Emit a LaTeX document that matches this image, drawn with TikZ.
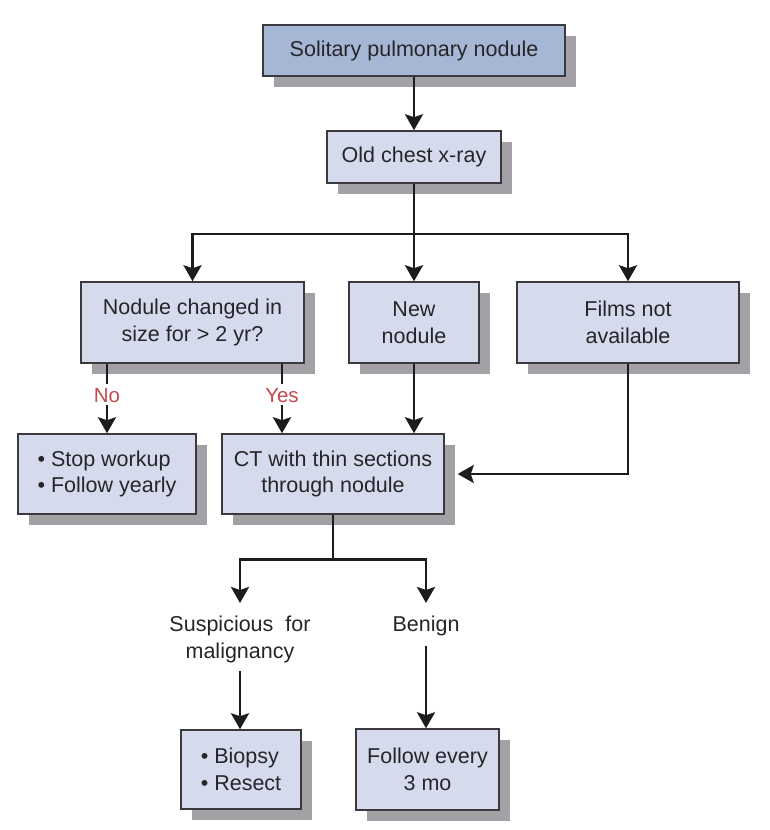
\documentclass[tikz,border=0pt]{standalone}
\usepackage{fontspec}
\setmainfont{Liberation Sans}
\usetikzlibrary{arrows.meta,shadows,calc}
\definecolor{topfill}{HTML}{A6B6D5}
\definecolor{boxfill}{HTML}{D5DAEC}
\definecolor{boxline}{HTML}{3A3A3E}
\definecolor{shadowgray}{HTML}{A2A2A6}
\definecolor{txt}{HTML}{26262A}
\definecolor{arrowc}{HTML}{1C1C1C}
\definecolor{redc}{HTML}{C8474F}
\begin{document}
\begin{tikzpicture}[x=1pt,y=-1pt,
  box/.style={draw=boxline, line width=1.5pt, fill=boxfill, text=txt,
    font=\fontsize{21.5}{26.5}\selectfont, align=center, inner sep=0pt,
    general shadow={fill=shadowgray, draw=none, shadow xshift=11pt, shadow yshift=-11pt}},
  lbox/.style={box, align=left},
  arr/.style={draw=arrowc, line width=2.9pt, -{Stealth[length=16pt,width=18pt,inset=3pt]}},
  lnk/.style={draw=arrowc, line width=2.9pt},
  lbl/.style={text=txt, font=\fontsize{21.5}{27}\selectfont, align=center, inner sep=0pt},
  yn/.style={text=redc, font=\fontsize{20.5}{24}\selectfont, inner sep=3pt, text height=15pt, text depth=0pt}]
\useasboundingbox (0,0) rectangle (770,830);

\node[box, fill=topfill, minimum width=302pt, minimum height=51pt] (A) at (414,50.5) {Solitary pulmonary nodule};
\node[box, minimum width=174pt, minimum height=52pt] (B) at (414,157) {Old chest x-ray};
\node[box, minimum width=223pt, minimum height=81pt] (C) at (192.5,322.5) {Nodule changed in\\size for > 2 yr?};
\node[box, minimum width=130pt, minimum height=81pt] (D) at (414,322.5) {New\\nodule};
\node[box, minimum width=222pt, minimum height=81pt] (E) at (628,322.5) {Films not\\available};
\node[lbox, minimum width=178pt, minimum height=80pt] (F) at (107,474) {• Stop workup\\• Follow yearly};
\node[box, minimum width=222pt, minimum height=80pt] (G) at (333,474) {CT with thin sections\\through nodule};
\node[lbox, minimum width=120pt, minimum height=79pt] (H) at (241,769.5) {• Biopsy\\• Resect};
\node[box, minimum width=143pt, minimum height=81pt] (I) at (427.5,769.5) {Follow every\\3 mo};

\node[yn] (no) at (107,394.5) {No};
\node[yn] (yes) at (282,394.5) {Yes};
\node[lbl, anchor=north] (susp) at (240,616) {Suspicious\ \ for\\malignancy};
\node[lbl, anchor=north] (benign) at (426,616) {Benign};

\coordinate (j1) at (414,234);
\coordinate (j2) at ($(G.south)+(0,45)$);

\draw[arr] (A) -- (B);
\draw[lnk] (B.south) -- (j1);
\draw[arr] (j1) -| (C.north);
\draw[arr] (j1) -- (D.north);
\draw[arr] (j1) -| (E.north);

\draw[lnk] (C.south -| no.north) -- (no.north);
\draw[arr] (no.south) -- (F.north);
\draw[lnk] (C.south -| yes.north) -- (yes.north);
\draw[arr] (yes.south) -- (yes.south |- G.north);
\draw[arr] (D.south) -- (D.south |- G.north);
\draw[arr, shorten >=13pt] (E.south) |- (G.east);

\draw[lnk] (G.south) -- (j2);
\draw[arr, shorten >=13pt] (j2) -| (susp.north);
\draw[arr, shorten >=13pt] (j2) -| (benign.north);
\draw[arr, shorten <=8pt] (susp.south) -- (susp.south |- H.north);
\draw[arr, shorten <=10pt] (benign.south) -- (benign.south |- I.north);
\end{tikzpicture}
\end{document}
